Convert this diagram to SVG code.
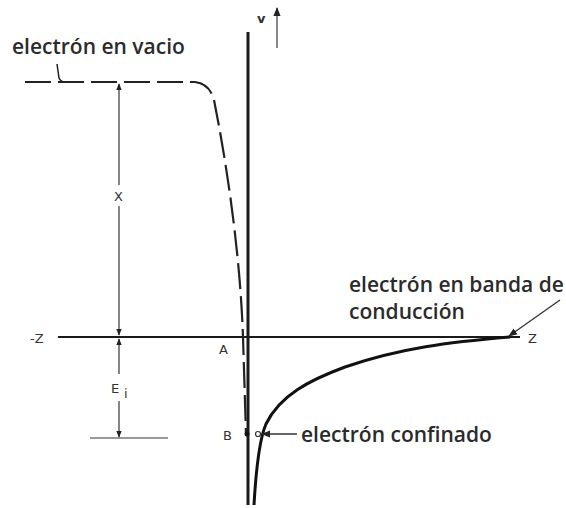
<svg xmlns="http://www.w3.org/2000/svg" width="566" height="508" viewBox="0 0 566 508">
<style>
.lbl{font-family:"Open Sans","Noto Sans",sans-serif;font-weight:600;font-size:21px;fill:#2b2b2b}
.sm{font-family:"DejaVu Sans","Liberation Sans",sans-serif;font-size:13px;fill:#333}
.axis{stroke:#1a1a1a;fill:none}
.dim{stroke:#333;stroke-width:1.2;fill:none}
.dash{stroke:#222;stroke-width:2.2;fill:none;stroke-dasharray:26 7}
</style>
<defs>
<marker id="ah" viewBox="0 0 10 10" refX="9" refY="5" markerWidth="7" markerHeight="7" orient="auto-start-reverse" markerUnits="userSpaceOnUse">
<path d="M0,1 L10,5 L0,9 Z" fill="#222"/>
</marker>
<marker id="ah2" viewBox="0 0 10 10" refX="9" refY="5" markerWidth="9" markerHeight="9" orient="auto" markerUnits="userSpaceOnUse">
<path d="M0,1 L10,5 L0,9 Z" fill="#222"/>
</marker>
</defs>
<rect width="566" height="508" fill="#fff"/>
<g id="axes">
<line class="axis" x1="248" y1="32" x2="248" y2="505" stroke-width="3"/>
<line class="axis" x1="58" y1="337" x2="520" y2="337" stroke-width="1.8" stroke="#333"/>
<line x1="277" y1="48" x2="277" y2="8" stroke="#888" stroke-width="2" marker-end="url(#ah2)"/>
<text class="sm" x="257" y="23" font-weight="bold">v</text>
<text class="sm" x="30" y="343">-Z</text>
<text class="sm" x="528" y="343">Z</text>
<text class="sm" x="219" y="354">A</text>
<text class="sm" x="223" y="440">B</text>
</g>
<g id="vacuum-curve">
<path class="dash" d="M25,82 L195,82 Q210,84 214,100 C226,160 240,250 243,337 L246,434"/>
</g>
<g id="conduction-curve">
<path d="M254,505 C256,470 259,440 266,424 C280,395 310,380 345,367 C400,348 450,342 510,337" stroke="#111" stroke-width="3" fill="none"/>
</g>
<g id="dim-X">
<line class="dim" x1="119" y1="84" x2="119" y2="185" marker-start="url(#ah)"/>
<line class="dim" x1="119" y1="206" x2="119" y2="335" marker-end="url(#ah)"/>
<text class="sm" x="114" y="201">X</text>
</g>
<g id="dim-Ei">
<line class="dim" x1="119" y1="339" x2="119" y2="374" marker-start="url(#ah)"/>
<line class="dim" x1="119" y1="401" x2="119" y2="437" marker-end="url(#ah)"/>
<line class="dim" x1="90" y1="438" x2="168" y2="438" stroke-width="1.5"/>
<text class="sm" x="111" y="393">E</text>
<text class="sm" x="124" y="398" font-size="10">i</text>
</g>
<g id="points">
<circle cx="247" cy="434" r="2.5" fill="#111"/>
<circle cx="258" cy="434" r="2.5" fill="#fff" stroke="#333" stroke-width="1.2"/>
</g>
<g id="connectors">
<path d="M57,64 L59,78 Q61,83 68,82" stroke="#222" stroke-width="1.5" fill="none"/>
<line x1="297" y1="434" x2="262" y2="434" stroke="#333" stroke-width="1.5" marker-end="url(#ah2)"/>
<line x1="560" y1="300" x2="509" y2="336" stroke="#333" stroke-width="1.3" marker-end="url(#ah2)"/>
</g>
<g id="label-vacio"><text class="lbl" x="12" y="54">electrón en vacio</text></g>
<g id="label-banda"><text class="lbl" x="349" y="292">electrón en banda de</text><text class="lbl" x="349" y="319">conducción</text></g>
<g id="label-confinado"><text class="lbl" x="301" y="442">electrón confinado</text></g>
</svg>
